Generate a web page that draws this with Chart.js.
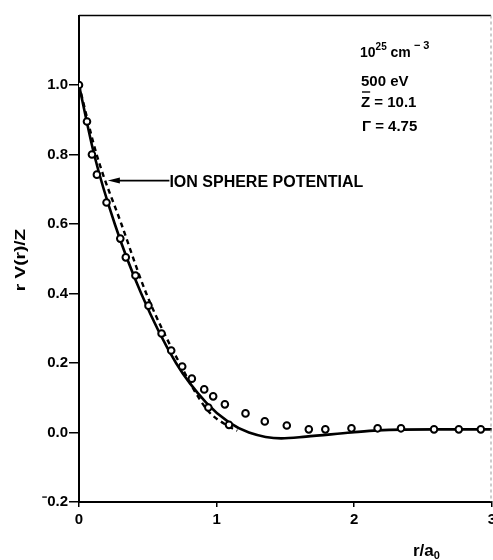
<!DOCTYPE html>
<html>
<head>
<meta charset="utf-8">
<script src="https://cdn.jsdelivr.net/npm/chart.js@4.4.0/dist/chart.umd.min.js"></script>
<style>
  html, body { margin: 0; padding: 0; background: #fff; overflow: hidden; }
  canvas { display: block; }
</style>
</head>
<body>
<canvas id="potChart" width="500" height="560"></canvas>
<script>
/* ------------------ Data ------------------ */
const xTicks = [0, 1, 2, 3];
const yTicks = [-0.2, 0, 0.2, 0.4, 0.6, 0.8, 1.0];

// open circles (simulation points)
const simX = [0, 0.058, 0.094, 0.13, 0.20, 0.30, 0.34, 0.41, 0.505, 0.60, 0.67, 0.75, 0.82, 0.91, 0.94, 0.975, 1.06, 1.09, 1.21, 1.35, 1.51, 1.67, 1.79, 1.98, 2.17, 2.34, 2.58, 2.76, 2.92];
const simY = [1.0, 0.895, 0.80, 0.742, 0.662, 0.558, 0.504, 0.452, 0.365, 0.285, 0.236, 0.19, 0.155, 0.124, 0.072, 0.104, 0.081, 0.022, 0.055, 0.032, 0.02, 0.009, 0.009, 0.012, 0.012, 0.012, 0.009, 0.009, 0.009];

// solid curve
const solidX = [0, 0.11, 0.26, 0.452, 0.705, 0.924, 1.09, 1.235, 1.47, 1.65, 1.98, 2.17, 2.58, 3.0];
const solidY = [1.0, 0.8, 0.6, 0.4, 0.2, 0.086, 0.029, 0.0, -0.017, -0.012, 0.0, 0.006, 0.009, 0.009];

// dashed curve (ion sphere potential)
const ionX = [0, 0.128, 0.308, 0.489, 0.73, 0.93, 1.09, 1.15];
const ionY = [1.0, 0.8, 0.6, 0.4, 0.2, 0.066, 0.017, 0.005];

const pts = (xs, ys) => xs.map((x, i) => ({ x: x, y: ys[i] }));

const FONT = '"Liberation Sans", Arial, Helvetica, sans-serif';

/* ------------------ Annotations ------------------ */
function drawPieces(ctx, x, baseY, pieces) {
  pieces.forEach(p => {
    ctx.font = 'bold ' + p.size + 'px ' + FONT;
    ctx.fillText(p.t, x, baseY + (p.dy || 0));
    x += ctx.measureText(p.t).width;
  });
  return x;
}

const annotations = {
  id: 'annotations',
  afterDraw(chart) {
    const ctx = chart.ctx;
    const a = chart.chartArea;
    const xs = chart.scales.x, ys = chart.scales.y;
    ctx.save();
    ctx.fillStyle = '#000';
    ctx.strokeStyle = '#000';
    ctx.textBaseline = 'alphabetic';
    ctx.textAlign = 'left';

    // top frame line
    ctx.lineWidth = 1.5;
    ctx.beginPath();
    ctx.moveTo(a.left, a.top);
    ctx.lineTo(491, a.top);
    ctx.stroke();
    // right frame, faint dashed
    ctx.strokeStyle = '#999';
    ctx.lineWidth = 1;
    ctx.setLineDash([3, 3]);
    ctx.beginPath();
    ctx.moveTo(491, a.top);
    ctx.lineTo(491, a.bottom);
    ctx.stroke();
    ctx.setLineDash([]);
    ctx.strokeStyle = '#000';

    // parameter block
    drawPieces(ctx, 360, 57, [
      { t: '10', size: 14 }, { t: '25', size: 10, dy: -7 },
      { t: ' cm', size: 14 }, { t: ' \u2212 3', size: 11, dy: -8 }
    ]);
    ctx.font = 'bold 15px ' + FONT;
    ctx.fillText('500 eV', 361, 86);
    ctx.fillText('Z = 10.1', 361, 107);
    const zw = ctx.measureText('Z').width;
    ctx.lineWidth = 1.4;
    ctx.beginPath();
    ctx.moveTo(362, 92); ctx.lineTo(361 + zw, 92);
    ctx.stroke();
    ctx.fillText('\u0393 = 4.75', 362, 131);

    // ion sphere label + arrow
    const tipX = xs.getPixelForValue(0.21), arrY = ys.getPixelForValue(0.725);
    const txtX = xs.getPixelForValue(0.657);
    ctx.font = 'bold 16px ' + FONT;
    ctx.fillText('ION SPHERE POTENTIAL', txtX, arrY + 6);
    ctx.lineWidth = 1.8;
    ctx.beginPath();
    ctx.moveTo(txtX, arrY); ctx.lineTo(tipX + 8, arrY);
    ctx.stroke();
    ctx.beginPath();
    ctx.moveTo(tipX, arrY); ctx.lineTo(tipX + 12, arrY - 3); ctx.lineTo(tipX + 12, arrY + 3);
    ctx.closePath();
    ctx.fill();

    // y axis title
    ctx.save();
    ctx.translate(25, 260);
    ctx.rotate(-Math.PI / 2);
    ctx.scale(1.12, 0.85);
    ctx.font = 'bold 17px ' + FONT;
    ctx.textAlign = 'center';
    ctx.fillText('r V(r)/Z', 0, 0);
    ctx.restore();

    // x axis title
    drawPieces(ctx, 413, 556, [{ t: 'r/a', size: 17 }, { t: '0', size: 11, dy: 3 }]);
    ctx.restore();
  }
};

/* ------------------ Chart ------------------ */
const ctx = document.getElementById('potChart').getContext('2d');
new Chart(ctx, {
  type: 'scatter',
  data: {
    datasets: [
      { label: 'sim', data: pts(simX, simY), showLine: false, pointRadius: 3.3,
        pointBorderWidth: 2, pointBorderColor: '#000', pointBackgroundColor: '#fff', order: 0 },
      { label: 'solid', data: pts(solidX, solidY), showLine: true, pointRadius: 0,
        borderColor: '#000', borderWidth: 2.6, cubicInterpolationMode: 'monotone', order: 2 },
      { label: 'ion', data: pts(ionX, ionY), showLine: true, pointRadius: 0,
        borderColor: '#000', borderWidth: 2.4, borderDash: [5, 4],
        cubicInterpolationMode: 'monotone', order: 1 }
    ]
  },
  options: {
    responsive: false,
    animation: false,
    layout: { padding: { top: 15.5, right: 5.5, left: 0, bottom: 0 } },
    plugins: { legend: { display: false }, tooltip: { enabled: false } },
    scales: {
      x: {
        type: 'linear', min: 0, max: 3,
        afterBuildTicks: s => { s.ticks = xTicks.map(v => ({ value: v })); },
        afterFit: s => { s.height = 58; },
        grid: { drawOnChartArea: false, tickLength: 5, color: '#000', lineWidth: 1.5 },
        border: { color: '#000', width: 2 },
        ticks: { padding: 4, color: '#000', font: { family: FONT, size: 15, weight: 'bold' },
                 callback: v => String(v) }
      },
      y: {
        type: 'linear', min: -0.2, max: 1.2,
        afterBuildTicks: s => { s.ticks = yTicks.map(v => ({ value: v })); },
        afterFit: s => { s.width = 79; },
        grid: { drawOnChartArea: false, tickLength: 10, color: '#000', lineWidth: 1.5 },
        border: { color: '#000', width: 2 },
        ticks: { padding: 1, color: '#000', font: { family: FONT, size: 15, weight: 'bold' },
                 callback: v => v < 0 ? '\u207B' + Math.abs(v).toFixed(1) : v.toFixed(1) }
      }
    }
  },
  plugins: [annotations]
});
</script>
</body>
</html>
